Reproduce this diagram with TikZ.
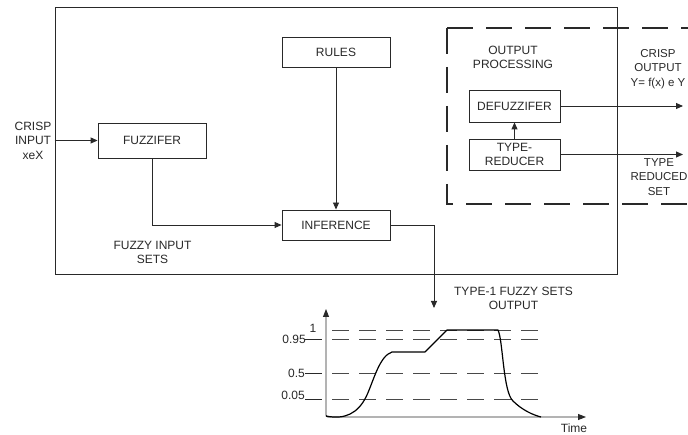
\documentclass[tikz,border=0pt]{standalone}
\usepackage{fontspec}
\setmainfont{Liberation Sans}
\usetikzlibrary{arrows.meta}
\definecolor{ink}{rgb}{0.16,0.16,0.16}
\begin{document}
\begin{tikzpicture}[x=1pt,y=-1pt,
  every node/.style={font=\fontsize{12}{14.5}\selectfont, text=ink, align=center, inner sep=0pt},
  blk/.style={draw=ink, line width=0.9pt, minimum width=108pt, minimum height=30pt},
  ln/.style={draw=ink, line width=0.9pt},
  arr/.style={ln, -{Triangle[length=7pt,width=6pt]}},
  dashbox/.style={draw=ink, line width=1.3pt, dash pattern=on 26pt off 13pt},
  hlevel/.style={draw=ink!85, line width=0.8pt, dash pattern=on 17pt off 10pt},
  small/.style={font=\fontsize{11.5}{14.5}\selectfont},
]
\useasboundingbox (0,0) rectangle (688,435);
\fill[white] (0,0) rectangle (688,435);

% main frame
\node[draw=ink, line width=0.9pt, minimum width=562pt, minimum height=267pt] (main) at (336,140.5) {};

% output processing dashed frame (open to the right)
\draw[dashbox] (447,28) -- (700,28);
\draw[dashbox] (447,28) -- (447,204) -- (700,204);

% blocks
\node[blk] (rules) at (336,52) {RULES};
\node[blk, minimum height=35pt] (fuzz) at (152,140.5) {FUZZIFER};
\node[blk] (inf) at (336,225) {INFERENCE};
\node[blk, minimum width=91pt, minimum height=32pt] (defuzz) at (514.5,106) {DEFUZZIFER};
\node[blk, minimum width=91pt, minimum height=31pt] (tred) at (514.5,154.5) {TYPE-\\REDUCER};

% labels
\node (cin) at (33,140.5) {CRISP\\INPUT\\xeX};
\node (fis) at (152.5,252.5) {FUZZY INPUT\\SETS};
\node (op) at (513,57.5) {OUTPUT\\PROCESSING};
\node[small] (cout) at (658,69) {CRISP\\OUTPUT\\Y= f(x) e Y};
\node[small] (trs) at (659,177) {TYPE\\REDUCED\\SET};
\node (t1) at (513.5,298.5) {TYPE-1 FUZZY SETS\\OUTPUT};

% connectors
\coordinate (inStart) at (main.west |- fuzz.west);
\draw[arr] (inStart) -- (fuzz.west);
\draw[arr] (rules.south) -- (inf.north);
\draw[arr] (fuzz.south) |- (inf.west);
\coordinate (infOut) at (434,308);
\draw[arr] (inf.east) -| (infOut);
\draw[arr] (tred.north) -- (defuzz.south);
\coordinate (dOut) at (683,106);
\coordinate (tOut) at (683,154.5);
\draw[arr] (defuzz.east) -- (dOut);
\draw[arr] (tred.east) -- (tOut);

% graph
\coordinate (origin) at (326,417);
\coordinate (ytop) at (326,309);
\coordinate (xend) at (586,417);
\draw[ln, {Triangle[length=8pt,width=6pt]}-{Triangle[length=8pt,width=6pt]}, rounded corners=2pt] (ytop) -- (origin) -- (xend);

\draw[hlevel] (332,330) -- (542,330);
\draw[hlevel] (332,339) -- (542,339);
\draw[hlevel] (332,373) -- (542,373);
\draw[hlevel] (332,399) -- (542,399);

\draw[ln, line width=0.8pt] (305,339) -- (322,339);
\draw[ln, line width=0.8pt] (305,373) -- (322,373);
\draw[ln, line width=0.8pt] (305,399) -- (322,399);

\node (l1) at (313,328) {1};
\node[anchor=east] (l095) at (306,339) {0.95};
\node[anchor=east] (l05) at (305,373) {0.5};
\node[anchor=east] (l005) at (305,395) {0.05};
\node (time) at (574,428) {Time};

\draw[draw=black, line width=1.2pt, line join=round]
  (326,416) .. controls (345,420) and (358,413) .. (366,397)
  .. controls (373,383) and (379,356) .. (392,352)
  -- (425,352) -- (447,330) -- (498,330)
  .. controls (503,340) and (503,392) .. (513,401)
  .. controls (522,410) and (533,415) .. (541,417);
\end{tikzpicture}
\end{document}
